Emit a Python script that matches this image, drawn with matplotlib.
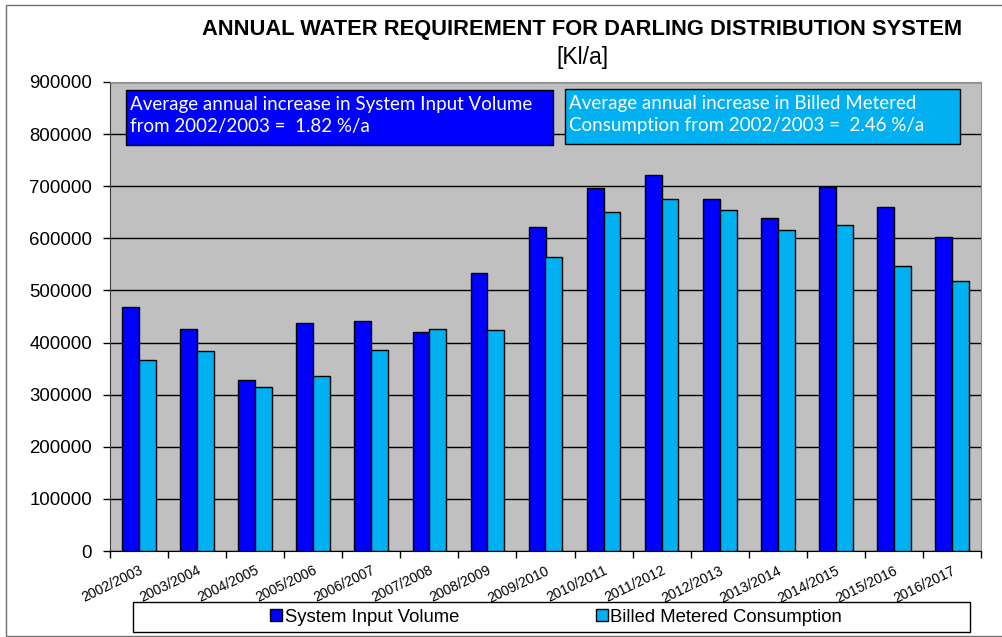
import matplotlib
matplotlib.use("Agg")
import matplotlib.pyplot as plt
import matplotlib.patches as patches
import numpy as np

years = ["2002/2003", "2003/2004", "2004/2005", "2005/2006", "2006/2007",
         "2007/2008", "2008/2009", "2009/2010", "2010/2011", "2011/2012",
         "2012/2013", "2013/2014", "2014/2015", "2015/2016", "2016/2017"]
system_input = [468000, 426000, 328000, 437000, 441000, 420000, 533000, 621000,
                697000, 722000, 675000, 639000, 698000, 660000, 603000]
billed_metered = [367000, 383000, 315000, 335000, 385000, 426000, 424000, 565000,
                  651000, 676000, 654000, 616000, 626000, 547000, 518000]
yticks = [0, 100000, 200000, 300000, 400000, 500000, 600000, 700000, 800000, 900000]

plt.rcParams['font.family'] = ['Liberation Sans', 'DejaVu Sans']

fig = plt.figure(figsize=(10.03, 6.37), dpi=100)
W, H = 1003, 637

def fx(px):
    return px / W

def fy(py):
    return 1 - py / H

ax = fig.add_axes([fx(110), fy(551), fx(981) - fx(110), fy(82) - fy(551)])
ax.set_facecolor('#C0C0C0')

x = np.arange(len(years))
bw = 0.29
ax.bar(x - bw / 2, system_input, bw, color='#0000FF', edgecolor='black',
       linewidth=1, label='System Input Volume', zorder=3)
ax.bar(x + bw / 2, billed_metered, bw, color='#00B0F0', edgecolor='black',
       linewidth=1, label='Billed Metered Consumption', zorder=3)

ax.set_xlim(-0.5, len(years) - 0.5)
ax.set_ylim(0, 900000)
ax.set_yticks(yticks)
ax.set_yticklabels([str(v) for v in yticks], fontsize=13.4)
ax.yaxis.grid(True, color='black', linewidth=1, zorder=1)
ax.tick_params(axis='y', length=5, width=1, direction='out', pad=8)

ax.set_xticks(x)
ax.set_xticklabels(years, fontsize=10.2, rotation=26, ha='right',
                   rotation_mode='anchor')
ax.tick_params(axis='x', which='major', length=0, pad=9)
ax.set_xticks(np.arange(-0.5, len(years), 1), minor=True)
ax.tick_params(axis='x', which='minor', length=5, width=1, direction='out')

for side in ['top', 'right']:
    ax.spines[side].set_color('#909090')
ax.spines['left'].set_color('#404040')
ax.spines['bottom'].set_color('black')

# titles
fig.text(fx(582), fy(30), 'ANNUAL WATER REQUIREMENT FOR DARLING DISTRIBUTION SYSTEM',
         ha='center', va='center', fontsize=15.75, fontweight='bold')
fig.text(fx(582), fy(57.5), '[Kl/a]', ha='center', va='center', fontsize=16.5)

# annotation boxes
boxes = [
    (126, 90, 553, 145, '#0000FF',
     'Average annual increase in System Input Volume\nfrom 2002/2003 =  1.82 %/a'),
    (565, 89, 960, 144, '#00B0F0',
     'Average annual increase in Billed Metered\nConsumption from 2002/2003 =  2.46 %/a'),
]
for x0, y0, x1, y1, col, txt in boxes:
    rect = patches.Rectangle((fx(x0), fy(y1)), fx(x1) - fx(x0), fy(y0) - fy(y1),
                             transform=fig.transFigure, facecolor=col,
                             edgecolor='black', linewidth=1, zorder=5)
    fig.add_artist(rect)
    fig.text(fx(x0 + 4), fy((y0 + y1) / 2 - 2), txt, ha='left', va='center',
             color='white', fontsize=13.5, family=['Lato', 'DejaVu Sans'],
             linespacing=1.3, zorder=6)

# legend
fig.add_artist(patches.Rectangle((fx(133), fy(632)), fx(970) - fx(133), fy(602) - fy(632),
                                 transform=fig.transFigure, facecolor='white',
                                 edgecolor='black', linewidth=1))
leg = fig.legend(loc='center', bbox_to_anchor=(fx(556), fy(617)),
                 bbox_transform=fig.transFigure, ncol=2, fontsize=13.3,
                 frameon=False, handlelength=0.65, handleheight=0.65,
                 handletextpad=0.15, columnspacing=7.4, borderpad=0)

# outer border
fig.add_artist(patches.Rectangle((fx(6), fy(636)), fx(1010) - fx(6), fy(5) - fy(636),
                                 transform=fig.transFigure, fill=False,
                                 edgecolor='#707070', linewidth=1))

fig.savefig('out.png', dpi=100)
